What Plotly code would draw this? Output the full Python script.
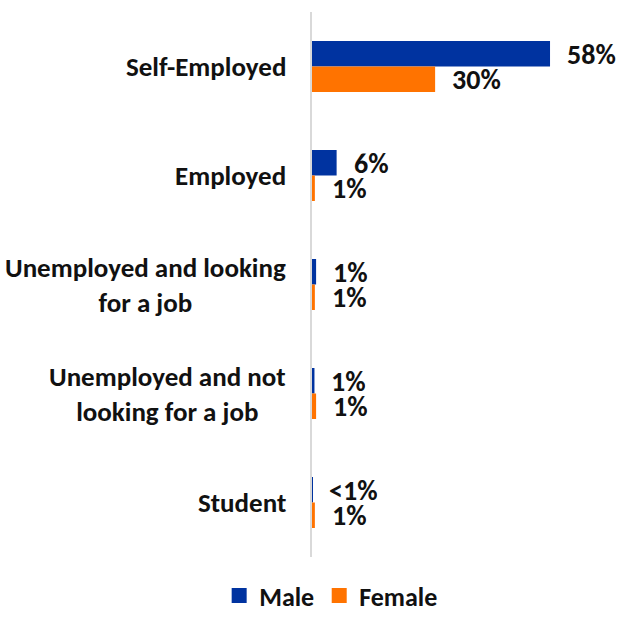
import plotly.graph_objects as go

# Employment status by sex (% of respondents)
categories = [
    "Self-Employed",
    "Employed",
    "Unemployed and looking<br>for a job",
    "Unemployed and not<br>looking for a job",
    "Student",
]
male_values = [58, 6, 1.0, 0.6, 0.1]
female_values = [30, 0.7, 0.7, 1.0, 0.7]
series_names = ["Male", "Female"]
series_colors = ["#0033a0", "#ff7300"]

FONT = "Carlito, Calibri, Lato, sans-serif"


def pct_label(v):
    return "<1%" if v < 0.5 else f"{round(v)}%"


fig = go.Figure()
for name, vals, color in zip(series_names, [male_values, female_values], series_colors):
    fig.add_trace(go.Bar(
        name=name,
        y=categories,
        x=vals,
        orientation="h",
        marker=dict(color=color, line=dict(width=0)),
        hoverinfo="skip",
        showlegend=False,
    ))
    # square legend swatch
    fig.add_trace(go.Scatter(
        name=f"<b>{name}</b>",
        x=[None], y=[None],
        mode="markers",
        marker=dict(symbol="square", size=15, color=color),
        hoverinfo="skip",
    ))

annotations = []
# value labels just past the end of each bar
for vals, shift in [(male_values, 12.75), (female_values, -12.75)]:
    for cat, v in zip(categories, vals):
        annotations.append(dict(
            x=v, y=cat, xref="x", yref="y",
            text=f"<b>{pct_label(v)}</b>",
            showarrow=False, xanchor="left", yanchor="middle",
            xshift=15, yshift=shift, height=24, valign="middle",
            font=dict(family=FONT, size=28, color="#111111"),
        ))

# category names, centred per line, to the left of the axis
for cat in categories:
    annotations.append(dict(
        x=0, y=cat, xref="paper", yref="y",
        text=f"<b>{cat}</b>",
        showarrow=False, xanchor="right", yanchor="middle",
        xshift=-24, align="center",
        font=dict(family=FONT, size=27, color="#111111"),
    ))

fig.update_layout(
    width=619, height=619,
    margin=dict(l=312, r=7, t=12, b=62),
    paper_bgcolor="white", plot_bgcolor="white",
    barmode="group", bargap=0.532, bargroupgap=0,
    annotations=annotations,
    font=dict(family=FONT, color="#111111"),
    legend=dict(
        orientation="h",
        xref="container", yref="container",
        x=0.535, xanchor="center",
        y=0.0, yanchor="bottom",
        font=dict(family=FONT, size=26, color="#111111"),
        itemwidth=30,
        traceorder="normal",
    ),
    showlegend=True,
)
fig.update_xaxes(range=[0, 73.1], visible=False, showgrid=False, zeroline=False)
fig.update_yaxes(
    autorange="reversed",
    showticklabels=False, ticks="",
    showgrid=False, zeroline=False,
    showline=True, linecolor="#d9d9d9", linewidth=2,
)

fig.write_html("out.html")
